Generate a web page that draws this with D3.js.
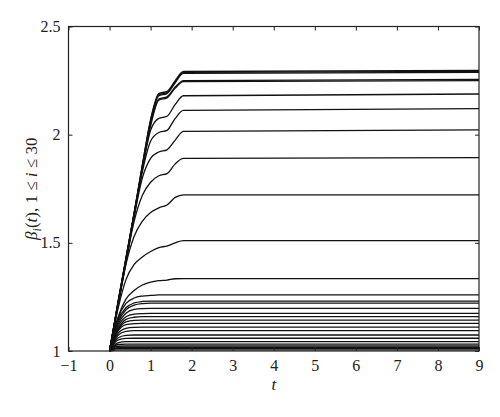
<!DOCTYPE html>
<html lang="en">
<head>
<meta charset="UTF-8">
<title>beta_i(t)</title>
<script src="https://d3js.org/d3.v7.min.js"></script>
<style>
    body { margin: 0; background: #fff; }
    svg { display: block; }
    .tick line { stroke: #222; }
    .domain { display: none; }
    .curve { fill: none; stroke: #111; stroke-width: 1.3; }
</style>
</head>
<body>
<div id="chart"></div>
<script>
    // time samples shared by every curve
    const tValues = [0, 0.2, 0.4, 0.6, 0.8, 1.0, 1.2, 1.4, 1.6, 1.8, 9];

    // beta_i(t), one row per i
    const betaValues = [
        [1, 1.22, 1.43, 1.64, 1.86, 2.07, 2.19, 2.20, 2.25, 2.292, 2.297],
        [1, 1.22, 1.43, 1.64, 1.86, 2.065, 2.185, 2.195, 2.245, 2.288, 2.293],
        [1, 1.215, 1.425, 1.635, 1.85, 2.06, 2.18, 2.19, 2.24, 2.283, 2.288],
        [1, 1.215, 1.425, 1.635, 1.85, 2.05, 2.165, 2.175, 2.22, 2.25, 2.256],
        [1, 1.215, 1.42, 1.63, 1.845, 2.04, 2.16, 2.17, 2.215, 2.245, 2.25],
        [1, 1.21, 1.42, 1.63, 1.84, 2.02, 2.075, 2.085, 2.14, 2.18, 2.188],
        [1, 1.21, 1.415, 1.625, 1.83, 1.97, 2.01, 2.02, 2.075, 2.112, 2.12],
        [1, 1.21, 1.41, 1.62, 1.80, 1.89, 1.92, 1.93, 1.975, 2.015, 2.022],
        [1, 1.205, 1.41, 1.60, 1.72, 1.78, 1.81, 1.82, 1.865, 1.89, 1.894],
        [1, 1.20, 1.40, 1.53, 1.60, 1.64, 1.662, 1.675, 1.71, 1.722, 1.722],
        [1, 1.19, 1.33, 1.40, 1.435, 1.46, 1.478, 1.485, 1.50, 1.51, 1.51],
        [1, 1.15, 1.24, 1.28, 1.305, 1.318, 1.325, 1.328, 1.334, 1.335, 1.335],
        [1, 1.15, 1.22, 1.245, 1.254, 1.257, 1.259, 1.259, 1.259, 1.259, 1.259],
        [1, 1.14, 1.20, 1.222, 1.229, 1.231, 1.231, 1.231, 1.231, 1.231, 1.231],
        [1, 1.13, 1.19, 1.212, 1.219, 1.221, 1.221, 1.221, 1.221, 1.221, 1.221],
        [1, 1.12, 1.175, 1.192, 1.196, 1.197, 1.197, 1.197, 1.197, 1.197, 1.197],
        [1, 1.11, 1.158, 1.17, 1.173, 1.174, 1.174, 1.174, 1.174, 1.174, 1.174],
        [1, 1.10, 1.146, 1.156, 1.159, 1.159, 1.159, 1.159, 1.159, 1.159, 1.159],
        [1, 1.095, 1.135, 1.142, 1.143, 1.143, 1.143, 1.143, 1.143, 1.143, 1.143],
        [1, 1.09, 1.122, 1.127, 1.128, 1.128, 1.128, 1.128, 1.128, 1.128, 1.128],
        [1, 1.08, 1.105, 1.109, 1.11, 1.11, 1.11, 1.11, 1.11, 1.11, 1.11],
        [1, 1.072, 1.091, 1.094, 1.094, 1.094, 1.094, 1.094, 1.094, 1.094, 1.094],
        [1, 1.06, 1.072, 1.074, 1.074, 1.074, 1.074, 1.074, 1.074, 1.074, 1.074],
        [1, 1.05, 1.058, 1.059, 1.059, 1.059, 1.059, 1.059, 1.059, 1.059, 1.059],
        [1, 1.038, 1.043, 1.043, 1.043, 1.043, 1.043, 1.043, 1.043, 1.043, 1.043],
        [1, 1.03, 1.032, 1.032, 1.032, 1.032, 1.032, 1.032, 1.032, 1.032, 1.032],
        [1, 1.022, 1.023, 1.023, 1.023, 1.023, 1.023, 1.023, 1.023, 1.023, 1.023],
        [1, 1.016, 1.017, 1.017, 1.017, 1.017, 1.017, 1.017, 1.017, 1.017, 1.017],
        [1, 1.012, 1.012, 1.012, 1.012, 1.012, 1.012, 1.012, 1.012, 1.012, 1.012],
        [1, 1.005, 1.005, 1.005, 1.005, 1.005, 1.005, 1.005, 1.005, 1.005, 1.005]
    ];

    const xTicks = [-1, 0, 1, 2, 3, 4, 5, 6, 7, 8, 9];
    const yTicks = [1, 1.5, 2, 2.5];

    const serif = "Liberation Serif";

    const width = 500, height = 417;
    const margin = {top: 26.5, right: 21, bottom: 66, left: 68.5};

    const svg = d3.select("#chart").append("svg")
        .attr("width", width)
        .attr("height", height);

    const x = d3.scaleLinear().domain([-1, 9]).range([margin.left, width - margin.right]);
    const y = d3.scaleLinear().domain([1, 2.5]).range([height - margin.bottom, margin.top]);

    const line = d3.line()
        .x((d, i) => x(tValues[i]))
        .y(d => y(d))
        .curve(d3.curveMonotoneX);

    svg.append("g")
        .selectAll("path")
        .data(betaValues)
        .enter()
        .append("path")
        .attr("class", "curve")
        .attr("d", line);

    // axes, ticks pointing into the box
    const gx = svg.append("g")
        .attr("transform", `translate(0,${y(1)})`)
        .call(d3.axisBottom(x).tickValues(xTicks).tickSizeInner(-4).tickSizeOuter(0).tickPadding(9)
            .tickFormat(d => d < 0 ? "\u2212" + Math.abs(d) : d));
    svg.append("g")
        .attr("transform", `translate(0,${y(2.5)})`)
        .call(d3.axisTop(x).tickValues(xTicks).tickSizeInner(-4).tickSizeOuter(0).tickFormat(""));
    const gy = svg.append("g")
        .attr("transform", `translate(${x(-1)},0)`)
        .call(d3.axisLeft(y).tickValues(yTicks).tickSizeInner(-4).tickSizeOuter(0).tickPadding(8)
            .tickFormat(d => d));
    svg.append("g")
        .attr("transform", `translate(${x(9)},0)`)
        .call(d3.axisRight(y).tickValues(yTicks).tickSizeInner(-4).tickSizeOuter(0).tickFormat(""));

    [gx, gy].forEach(g => g.selectAll("text")
        .attr("font-family", serif).attr("font-size", 16).attr("fill", "#222"));

    svg.append("rect")
        .attr("x", x(-1)).attr("y", y(2.5))
        .attr("width", x(9) - x(-1)).attr("height", y(1) - y(2.5))
        .attr("fill", "none").attr("stroke", "#222").attr("stroke-width", 1.2);

    // axis titles
    svg.append("text")
        .attr("x", x(4)).attr("y", 390)
        .attr("text-anchor", "middle")
        .attr("font-family", serif).attr("font-size", 17).attr("fill", "#222")
        .attr("font-style", "italic")
        .text("t");

    const yl = svg.append("text")
        .attr("transform", `translate(37,${(y(1) + y(2.5)) / 2}) rotate(-90)`)
        .attr("text-anchor", "middle")
        .attr("font-family", serif).attr("font-size", 17).attr("fill", "#222");
    yl.append("tspan").attr("font-style", "italic").text("\u03B2");
    yl.append("tspan").attr("font-style", "italic").attr("dy", 4).attr("font-size", 12).text("i");
    yl.append("tspan").attr("dy", -4).text("(");
    yl.append("tspan").attr("font-style", "italic").text("t");
    yl.append("tspan").text("), 1 \u2264 ");
    yl.append("tspan").attr("font-style", "italic").text("i");
    yl.append("tspan").text(" \u2264 30");
</script>
</body>
</html>
